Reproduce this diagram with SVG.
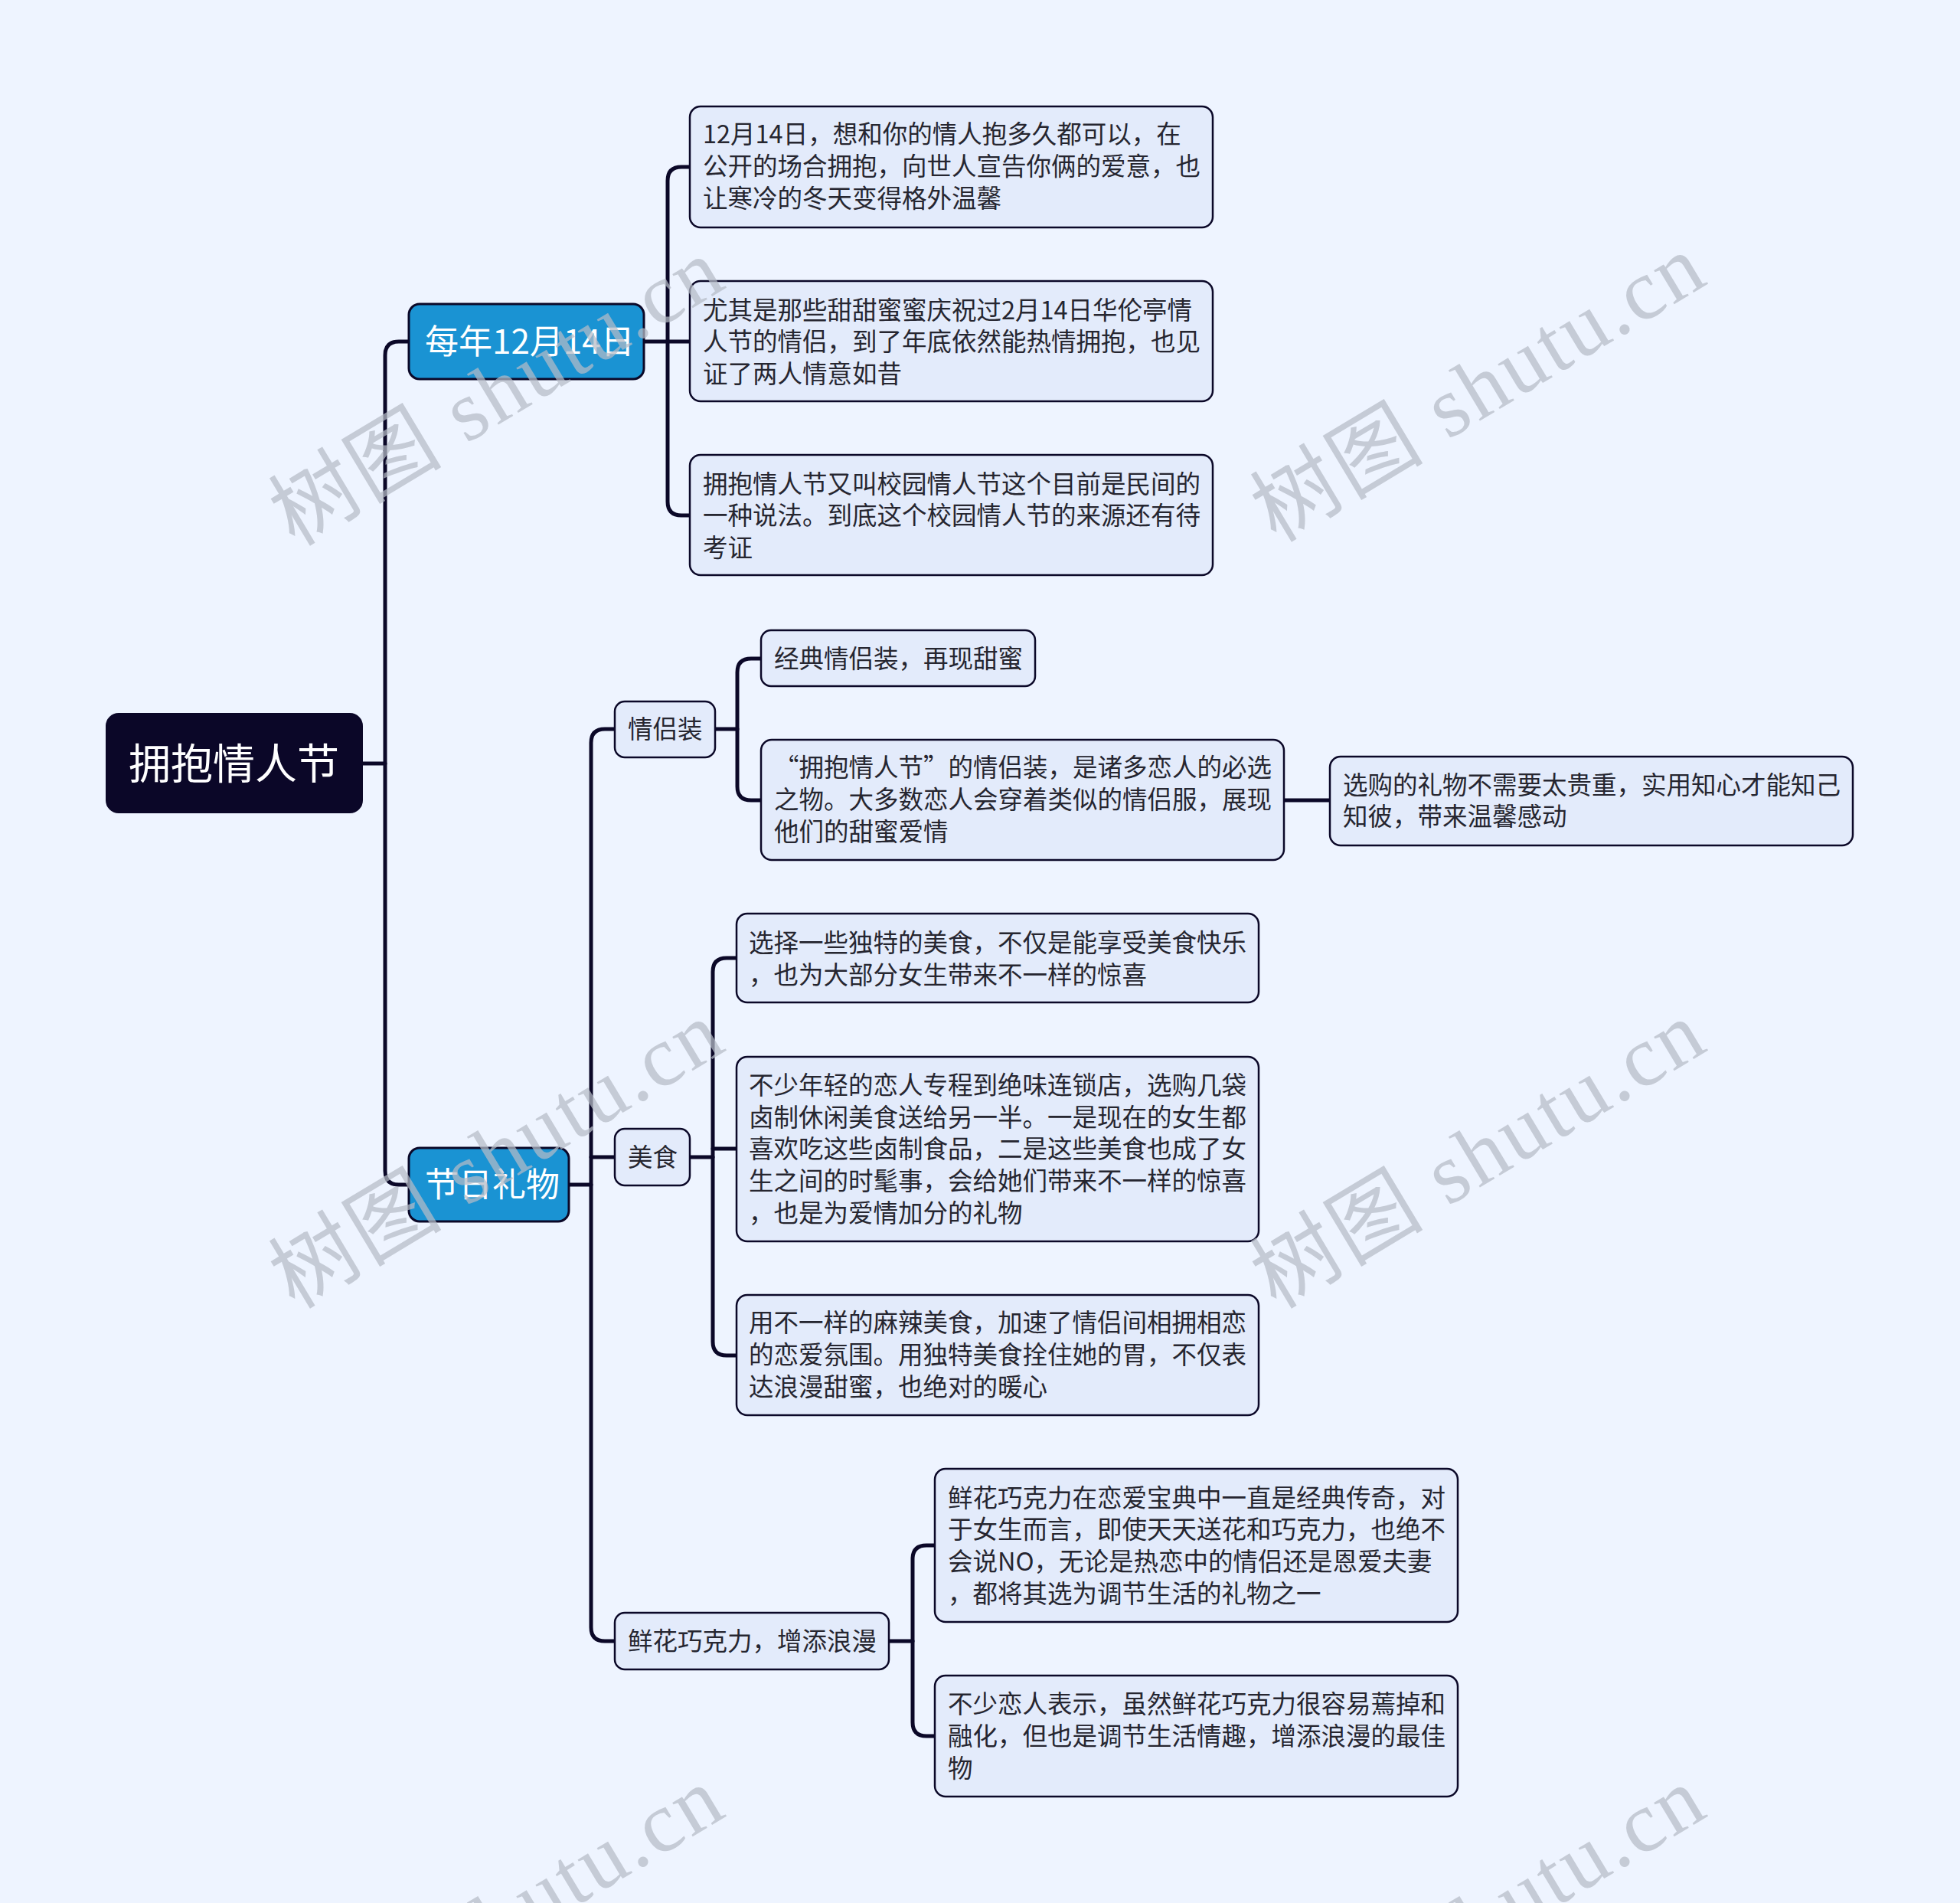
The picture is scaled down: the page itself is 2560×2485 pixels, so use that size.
<svg xmlns="http://www.w3.org/2000/svg" width="2560" height="2485" viewBox="0 0 2560 2485">
<style>
.bg{fill:#eef4ff}
.conn{fill:none;stroke:#0b0828;stroke-width:5;stroke-linecap:round;stroke-linejoin:round}
.root{fill:#0b0728;stroke:#0b0728;stroke-width:2}
.l1{fill:#1a93d3;stroke:#0b0828;stroke-width:3}
.box{fill:#e3ebfb;stroke:#0b0828;stroke-width:2.5}
text{font-family:"Noto Sans CJK SC","Noto Sans",sans-serif}
.tr{fill:#ffffff;font-size:55px}
.t1{fill:#ffffff;font-size:44px}
.t{fill:#262630;font-size:32.5px}
.wm{fill:#b6bcc7;opacity:0.72;font-family:"Liberation Serif","Noto Sans CJK SC",serif;font-size:112px}
</style>
<rect class="bg" x="0" y="0" width="2560" height="2485"/>
<g id="connectors">
<path class="conn" d="M473 997 H503"/>
<path class="conn" d="M534 446 H521 Q503 446 503 464 V1529 Q503 1547 521 1547 H534"/>
<path class="conn" d="M841 446 H901"/>
<path class="conn" d="M901 218 H890 Q872 218 872 236 V655 Q872 673 890 673 H901"/>
<path class="conn" d="M743 1547 H772"/>
<path class="conn" d="M803 952 H790 Q772 952 772 970 V2125 Q772 2143 790 2143 H803"/>
<path class="conn" d="M772 1511 H803"/>
<path class="conn" d="M934 952 H963"/>
<path class="conn" d="M994 860 H981 Q963 860 963 878 V1027 Q963 1045 981 1045 H994"/>
<path class="conn" d="M1677 1045 H1737"/>
<path class="conn" d="M901 1511 H931"/>
<path class="conn" d="M962 1251 H949 Q931 1251 931 1269 V1752 Q931 1770 949 1770 H962"/>
<path class="conn" d="M931 1500 H962"/>
<path class="conn" d="M1161 2143 H1192"/>
<path class="conn" d="M1221 2018 H1210 Q1192 2018 1192 2036 V2249 Q1192 2267 1210 2267 H1221"/>
</g>
<g id="root">
<rect class="root" x="139" y="932" width="334" height="129" rx="16"/>
<text class="tr" x="168" y="1017">拥抱情人节</text>
</g>
<g id="n-1214">
<rect class="l1" x="534" y="397" width="307" height="98" rx="14"/>
<text class="t1" x="555" y="462">每年12月14日</text>
</g>
<g id="n-c1">
<rect class="box" x="901" y="139" width="683" height="158" rx="14"/>
<text class="t" x="918"><tspan x="918" y="187">12月14日，想和你的情人抱多久都可以，在</tspan><tspan x="918" y="229">公开的场合拥抱，向世人宣告你俩的爱意，也</tspan><tspan x="918" y="271">让寒冷的冬天变得格外温馨</tspan></text>
</g>
<g id="n-c2">
<rect class="box" x="901" y="367" width="683" height="157" rx="14"/>
<text class="t"><tspan x="918" y="417">尤其是那些甜甜蜜蜜庆祝过2月14日华伦亭情</tspan><tspan x="918" y="458">人节的情侣，到了年底依然能热情拥抱，也见</tspan><tspan x="918" y="500">证了两人情意如昔</tspan></text>
</g>
<g id="n-c3">
<rect class="box" x="901" y="594" width="683" height="157" rx="14"/>
<text class="t"><tspan x="918" y="644">拥抱情人节又叫校园情人节这个目前是民间的</tspan><tspan x="918" y="685">一种说法。到底这个校园情人节的来源还有待</tspan><tspan x="918" y="727">考证</tspan></text>
</g>
<g id="n-gift">
<rect class="l1" x="534" y="1499" width="209" height="96" rx="14"/>
<text class="t1" x="555" y="1563">节日礼物</text>
</g>
<g id="n-qlz">
<rect class="box" x="803" y="916" width="131" height="73" rx="13"/>
<text class="t" x="820" y="964">情侣装</text>
</g>
<g id="n-qlz1">
<rect class="box" x="994" y="823" width="358" height="73" rx="13"/>
<text class="t" x="1011" y="872">经典情侣装，再现甜蜜</text>
</g>
<g id="n-qlz2">
<rect class="box" x="994" y="966" width="683" height="157" rx="14"/>
<text class="t"><tspan x="1011" y="1014">“拥抱情人节”的情侣装，是诸多恋人的必选</tspan><tspan x="1011" y="1056">之物。大多数恋人会穿着类似的情侣服，展现</tspan><tspan x="1011" y="1098">他们的甜蜜爱情</tspan></text>
</g>
<g id="n-qlz3">
<rect class="box" x="1737" y="988" width="683" height="116" rx="14"/>
<text class="t"><tspan x="1754" y="1037">选购的礼物不需要太贵重，实用知心才能知己</tspan><tspan x="1754" y="1078">知彼，带来温馨感动</tspan></text>
</g>
<g id="n-ms">
<rect class="box" x="803" y="1474" width="98" height="74" rx="13"/>
<text class="t" x="820" y="1523">美食</text>
</g>
<g id="n-ms1">
<rect class="box" x="962" y="1193" width="682" height="116" rx="14"/>
<text class="t"><tspan x="978" y="1243">选择一些独特的美食，不仅是能享受美食快乐</tspan><tspan x="978" y="1285">，也为大部分女生带来不一样的惊喜</tspan></text>
</g>
<g id="n-ms2">
<rect class="box" x="962" y="1380" width="682" height="241" rx="14"/>
<text class="t"><tspan x="978" y="1429">不少年轻的恋人专程到绝味连锁店，选购几袋</tspan><tspan x="978" y="1471">卤制休闲美食送给另一半。一是现在的女生都</tspan><tspan x="978" y="1512">喜欢吃这些卤制食品，二是这些美食也成了女</tspan><tspan x="978" y="1554">生之间的时髦事，会给她们带来不一样的惊喜</tspan><tspan x="978" y="1596">，也是为爱情加分的礼物</tspan></text>
</g>
<g id="n-ms3">
<rect class="box" x="962" y="1691" width="682" height="157" rx="14"/>
<text class="t"><tspan x="978" y="1739">用不一样的麻辣美食，加速了情侣间相拥相恋</tspan><tspan x="978" y="1781">的恋爱氛围。用独特美食拴住她的胃，不仅表</tspan><tspan x="978" y="1823">达浪漫甜蜜，也绝对的暖心</tspan></text>
</g>
<g id="n-xh">
<rect class="box" x="803" y="2106" width="358" height="74" rx="13"/>
<text class="t" x="820" y="2155">鲜花巧克力，增添浪漫</text>
</g>
<g id="n-xh1">
<rect class="box" x="1221" y="1918" width="683" height="200" rx="14"/>
<text class="t"><tspan x="1238" y="1968">鲜花巧克力在恋爱宝典中一直是经典传奇，对</tspan><tspan x="1238" y="2009">于女生而言，即使天天送花和巧克力，也绝不</tspan><tspan x="1238" y="2051">会说NO，无论是热恋中的情侣还是恩爱夫妻</tspan><tspan x="1238" y="2093">，都将其选为调节生活的礼物之一</tspan></text>
</g>
<g id="n-xh2">
<rect class="box" x="1221" y="2188" width="683" height="158" rx="14"/>
<text class="t"><tspan x="1238" y="2237">不少恋人表示，虽然鲜花巧克力很容易蔫掉和</tspan><tspan x="1238" y="2279">融化，但也是调节生活情趣，增添浪漫的最佳</tspan><tspan x="1238" y="2321">物</tspan></text>
</g>
<g id="watermarks">
<text class="wm" x="648" y="512" text-anchor="middle" dominant-baseline="central" textLength="660" lengthAdjust="spacing" transform="rotate(-31 648 512)">树图 shutu.cn</text>
<text class="wm" x="1930" y="507" text-anchor="middle" dominant-baseline="central" textLength="660" lengthAdjust="spacing" transform="rotate(-31 1930 507)">树图 shutu.cn</text>
<text class="wm" x="648" y="1508" text-anchor="middle" dominant-baseline="central" textLength="660" lengthAdjust="spacing" transform="rotate(-31 648 1508)">树图 shutu.cn</text>
<text class="wm" x="1930" y="1508" text-anchor="middle" dominant-baseline="central" textLength="660" lengthAdjust="spacing" transform="rotate(-31 1930 1508)">树图 shutu.cn</text>
<text class="wm" x="648" y="2508" text-anchor="middle" dominant-baseline="central" textLength="660" lengthAdjust="spacing" transform="rotate(-31 648 2508)">树图 shutu.cn</text>
<text class="wm" x="1930" y="2508" text-anchor="middle" dominant-baseline="central" textLength="660" lengthAdjust="spacing" transform="rotate(-31 1930 2508)">树图 shutu.cn</text>
</g>
</svg>
